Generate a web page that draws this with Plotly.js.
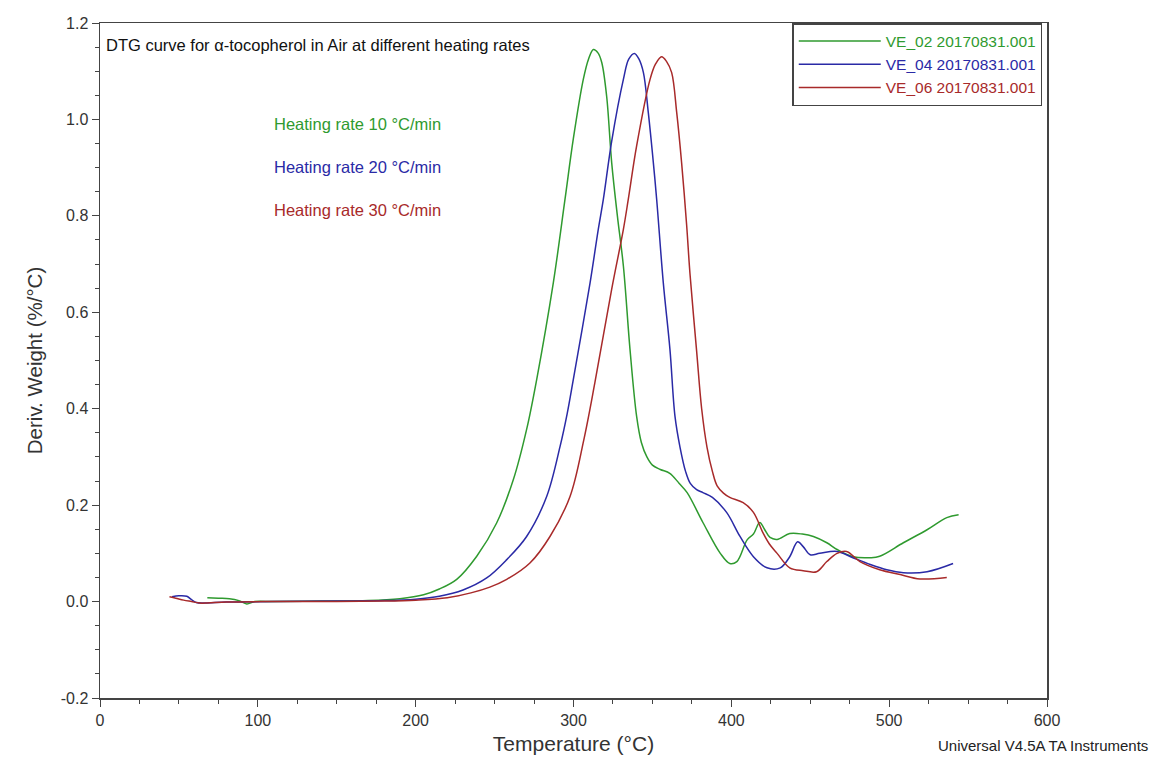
<!DOCTYPE html>
<html>
<head>
<meta charset="utf-8">
<script src="https://cdn.plot.ly/plotly-3.0.1.min.js"></script>
<style>html,body{margin:0;padding:0;background:#fff;}#chart{width:1153px;height:762px;}</style>
</head>
<body>
<div id="chart"></div>
<script>
// Series names
const seriesNames = ["VE_02 20170831.001", "VE_04 20170831.001", "VE_06 20170831.001"];

// VE_02 – heating rate 10 °C/min
const tempGreen = [68, 75, 82, 88, 93, 98, 110, 140, 170, 190, 205, 215, 226, 238.7, 251.3, 261.9, 270.3, 276.7, 287.2, 294.6, 299.9, 306.2, 309.5, 312.6, 315.5, 317.9, 321, 324.2, 327.8, 331.6, 335.8, 340, 343, 346.5, 350, 355, 361, 367, 372, 382, 393, 399, 403.5, 410, 414, 418, 421, 424.5, 429, 437, 445, 452, 460.5, 467, 477, 488, 494, 509, 524, 536.5, 544];
const derivGreen = [0.008, 0.007, 0.006, 0.002, -0.005, 0.0, 0.0, 0.001, 0.002, 0.006, 0.014, 0.026, 0.046, 0.094, 0.163, 0.253, 0.357, 0.461, 0.661, 0.834, 0.96, 1.083, 1.125, 1.145, 1.138, 1.118, 1.048, 0.91, 0.80, 0.696, 0.523, 0.384, 0.33, 0.30, 0.283, 0.274, 0.266, 0.245, 0.226, 0.164, 0.10, 0.079, 0.083, 0.128, 0.14, 0.164, 0.15, 0.133, 0.129, 0.141, 0.14, 0.135, 0.122, 0.108, 0.093, 0.091, 0.094, 0.122, 0.149, 0.174, 0.18];

// VE_04 – heating rate 20 °C/min
const tempBlue = [45.6, 50, 55, 58, 61, 66, 80, 110, 150, 180, 200, 215, 230, 245, 257.7, 270.3, 283, 291.5, 296, 299.9, 310.5, 315.7, 318.9, 324.2, 331.6, 335, 338.6, 341.5, 344.3, 347.4, 350.6, 352.7, 356.9, 361.1, 364.3, 367.5, 371, 374, 378, 382, 388, 397, 405.5, 414, 422.6, 431, 437, 442, 445.5, 450, 456, 467, 477, 488, 498.5, 509, 524, 540.5];
const derivBlue = [0.01, 0.012, 0.011, 0.004, -0.002, -0.003, -0.001, 0.0, 0.001, 0.002, 0.005, 0.011, 0.024, 0.049, 0.087, 0.135, 0.218, 0.322, 0.39, 0.461, 0.661, 0.772, 0.834, 0.955, 1.083, 1.125, 1.137, 1.125, 1.097, 1.014, 0.91, 0.834, 0.661, 0.523, 0.384, 0.32, 0.27, 0.245, 0.232, 0.226, 0.216, 0.185, 0.135, 0.093, 0.07, 0.07, 0.093, 0.124, 0.114, 0.097, 0.10, 0.104, 0.091, 0.077, 0.066, 0.06, 0.062, 0.079];

// VE_06 – heating rate 30 °C/min
const tempRed = [44, 48, 53, 58, 63, 68, 80, 110, 150, 180, 200, 220, 235, 247, 257.7, 272.4, 285.1, 297.8, 306.5, 313.6, 324.2, 331.6, 334.7, 340, 348.5, 352, 355.8, 359, 362.2, 365.4, 368.5, 371.7, 373.8, 378, 381.2, 384.6, 388, 391, 395, 399, 407.5, 414, 420, 424, 429, 437, 445.5, 454, 460.5, 467, 473, 481.5, 494, 507, 519.5, 536.5];
const derivRed = [0.01, 0.007, 0.003, 0.0, -0.003, -0.003, -0.001, 0.0, 0.0, 0.001, 0.003, 0.008, 0.018, 0.03, 0.046, 0.08, 0.135, 0.218, 0.335, 0.455, 0.648, 0.772, 0.834, 0.945, 1.083, 1.115, 1.130, 1.12, 1.097, 1.014, 0.91, 0.78, 0.68, 0.52, 0.40, 0.32, 0.27, 0.24, 0.225, 0.216, 0.205, 0.185, 0.143, 0.12, 0.10, 0.07, 0.064, 0.062, 0.083, 0.10, 0.104, 0.083, 0.066, 0.056, 0.047, 0.05];

// Tick labels
const xTickVals = [0, 100, 200, 300, 400, 500, 600];
const xTickText = ["0", "100", "200", "300", "400", "500", "600"];
const yTickVals = [-0.2, 0.0, 0.2, 0.4, 0.6, 0.8, 1.0, 1.2];
const yTickText = ["-0.2", "0.0", "0.2", "0.4", "0.6", "0.8", "1.0", "1.2"];

// Text
const chartTitle = "DTG curve for α-tocopherol in Air at different heating rates";
const rateLabels = ["Heating rate 10 °C/min", "Heating rate 20 °C/min", "Heating rate 30 °C/min"];
const xTitle = "Temperature (°C)";
const yTitle = "Deriv. Weight (%/°C)";
const footer = "Universal V4.5A TA Instruments";

const colors = ["#2f9a2f", "#2a2aa6", "#a82a2a"];
const xs = [tempGreen, tempBlue, tempRed];
const ys = [derivGreen, derivBlue, derivRed];

const traces = xs.map((x, i) => ({
  x: x, y: ys[i], type: "scatter", mode: "lines",
  name: '<span style="color:' + colors[i] + '">' + seriesNames[i] + '</span>',
  line: {color: colors[i], width: 1.5, shape: "spline", smoothing: 1}
}));

const font = "Liberation Sans, Arial, sans-serif";
const rateY = [0.99, 0.902, 0.813];

const annotations = [
  {text: chartTitle, xref: "paper", yref: "paper", x: 0.004, y: 0.967, xanchor: "left", yanchor: "middle",
   showarrow: false, font: {family: font, size: 16.5, color: "#111"}},
  {text: footer, xref: "paper", yref: "paper", x: 1.109, y: -0.071, xanchor: "right", yanchor: "middle",
   showarrow: false, font: {family: font, size: 15, color: "#222"}}
].concat(rateLabels.map((t, i) => ({
  text: t, xref: "x", yref: "y", x: 109, y: rateY[i], xanchor: "left", yanchor: "middle",
  showarrow: false, font: {family: font, size: 16.5, color: colors[i]}
})));

const layout = {
  width: 1153, height: 762,
  margin: {l: 100, r: 106, t: 23, b: 64},
  paper_bgcolor: "#fff", plot_bgcolor: "#fff",
  font: {family: font, color: "#333"},
  showlegend: true,
  legend: {x: 0.731, y: 1, xanchor: "left", yanchor: "top", bgcolor: "#fff",
           bordercolor: "#444", borderwidth: 1.5, font: {family: font, size: 15.5}, tracegroupgap: 0,
           itemwidth: 82},
  xaxis: {range: [0, 600], tickvals: xTickVals, ticktext: xTickText, ticks: "outside", ticklen: 7,
          tickcolor: "#444", showline: true, linecolor: "#444", linewidth: 1.5, mirror: true,
          showgrid: false, zeroline: false, tickfont: {size: 16, color: "#333"},
          minor: {dtick: 25, ticks: "outside", ticklen: 4, tickcolor: "#444", showgrid: false},
          title: {text: xTitle, font: {size: 21, color: "#333"}, standoff: 8}},
  yaxis: {range: [-0.2, 1.2], tickvals: yTickVals, ticktext: yTickText, ticks: "outside", ticklen: 7,
          tickcolor: "#444", showline: true, linecolor: "#444", linewidth: 1.5, mirror: true,
          showgrid: false, zeroline: false, tickfont: {size: 16, color: "#333"},
          minor: {dtick: 0.05, ticks: "outside", ticklen: 4, tickcolor: "#444", showgrid: false},
          title: {text: yTitle, font: {size: 20.5, color: "#333"}, standoff: 12}},
  annotations: annotations
};

Plotly.newPlot("chart", traces, layout, {displayModeBar: false, staticPlot: true});
</script>
</body>
</html>
